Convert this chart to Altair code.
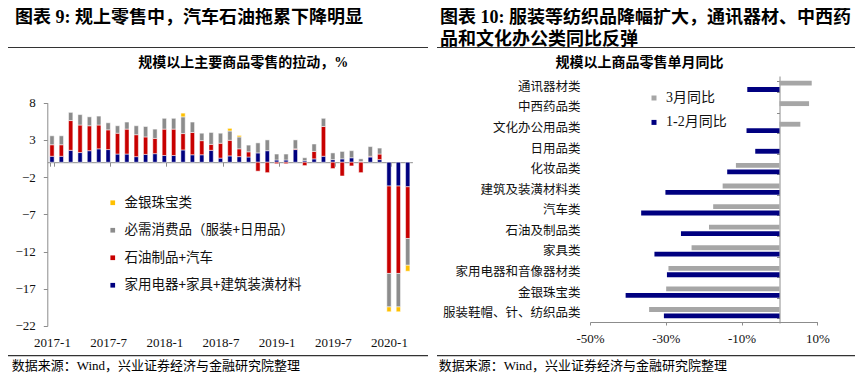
import altair as alt
import pandas as pd

MIX = "Liberation Serif, Noto Sans CJK SC"
CJK = "Noto Sans CJK SC"
SERIF = "Liberation Serif"

# ---------------- left chart data ----------------
months = [f"{y}-{m}" for y in (2017, 2018, 2019) for m in range(1, 13)] + ["2020-1", "2020-2", "2020-3"]
month_ticks = ["2017-1", "2017-7", "2018-1", "2018-7", "2019-1", "2019-7", "2020-1"]

left_series = ["金银珠宝类", "必需消费品（服装+日用品）", "石油制品+汽车", "家用电器+家具+建筑装潢材料"]
left_colors = ["#ffc000", "#8c8c8c", "#c80000", "#00007f"]

appliance = [0.8, 0.8, 1.6, 1.3, 1.55, 1.8, 1.7, 1.1, 1.1, 0.75, 1.05, 1.15,
             0.9, 0.9, 1.65, 1.0, 1.0, 1.6, 0.55, 0.85, 0.75, 0.7, 1.25, 1.55,
             0.3, 0.3, 1.7, 0.2, 0.45, 0.8, 0.35, 0.45, 0.6, 0.1, 0.7, 0.35,
             -3.2, -3.2, -3.3]
oil_auto = [1.55, 1.55, 4.0, 3.7, 3.35, 3.2, 2.65, 2.8, 3.35, 2.95, 2.35, 2.05,
            3.55, 3.55, 2.2, 3.0, 1.9, 0.8, 2.0, 2.1, 1.05, 0.7, -1.2, -1.4,
            -0.2, -0.2, 0.1, -0.45, 1.0, 4.0, -0.85, -1.85, -0.5, -1.4, 0.1, 0.75,
            -11.75, -11.75, -6.95]
necessities = [1.2, 1.2, 1.1, 1.4, 1.2, 1.2, 0.95, 1.0, 0.95, 1.2, 1.4, 1.25,
               1.45, 1.45, 2.25, 1.4, 1.0, 1.6, 1.35, 1.25, 1.6, 0.9, 1.35, 1.45,
               0.8, 0.8, 1.2, 0.4, 1.0, 1.1, 0.9, 1.0, 0.95, 0.35, 1.3, 0.8,
               -4.5, -4.5, -3.6]
jewelry = [0, 0, 0, 0, 0, 0, 0, 0, 0, 0, 0, 0,
           0, 0, 0.5, 0, 0, 0, 0, 0.35, 0.2, 0, 0, 0,
           0, 0, 0, 0, 0, 0, 0, 0, 0, 0, 0, 0,
           -0.65, -0.65, -0.8]

rows = []
for i, m in enumerate(months):
    for k, (name, vals) in enumerate([(left_series[3], appliance), (left_series[2], oil_auto),
                                      (left_series[1], necessities), (left_series[0], jewelry)]):
        if vals[i] != 0:
            rows.append({"month": m, "series": name, "v": vals[i], "k": k})
left_df = pd.DataFrame(rows)

# ---------------- right chart data ----------------
cats = ["通讯器材类", "中西药品类", "文化办公用品类", "日用品类", "化妆品类", "建筑及装潢材料类",
        "汽车类", "石油及制品类", "家具类", "家用电器和音像器材类", "金银珠宝类", "服装鞋帽、针、纺织品类"]
right_series = ["3月同比", "1-2月同比"]
right_colors = ["#a6a6a6", "#000080"]
march = [8.5, 7.8, 5.5, None, -11.5, -15.0, -17.5, -18.6, -23.2, -29.3, -29.9, -34.4]
janfeb = [-8.5, None, -8.7, -6.4, -13.8, -30.1, -36.5, -26.0, -33.0, -29.7, -40.6, -30.5]

rrows = []
for c, a, b in zip(cats, march, janfeb):
    if a is not None:
        rrows.append({"cat": c, "s": right_series[0], "v": a})
    if b is not None:
        rrows.append({"cat": c, "s": right_series[1], "v": b})
right_df = pd.DataFrame(rrows)

H = 367
AX = "#8c8c8c"

left_bars = alt.Chart(left_df).mark_bar(stroke="white", strokeWidth=0.5).encode(
    x=alt.X("month:O", sort=months,
            scale=alt.Scale(domain=months, range=[39.3, 404.4], paddingInner=0.54, paddingOuter=0.27),
            axis=alt.Axis(orient="bottom", offset=154.2 - H, values=month_ticks, tickBand="extent",
                          tickSize=4, tickColor=AX, domainColor=AX, labelFont=SERIF, labelFontSize=13,
                          labelColor="#111", labelPadding=170, labelAngle=0, labelOverlap=False,
                          title=None, grid=False)),
    y=alt.Y("v:Q", stack="zero",
            scale=alt.Scale(domain=[-22, 8], range=[317.9, 94.7], nice=False, zero=False),
            axis=alt.Axis(orient="left", offset=-39.3, values=[8, 3, -2, -7, -12, -17, -22],
                          tickSize=4, tickColor=AX, domainColor=AX, labelFont=SERIF, labelFontSize=13,
                          labelColor="#111", labelPadding=8, title=None, grid=False)),
    color=alt.Color("series:N", scale=alt.Scale(domain=left_series, range=left_colors),
                    legend=alt.Legend(orient="none", legendX=98, legendY=188, title=None,
                                      symbolType="square", symbolSize=22, symbolStrokeWidth=0,
                                      labelFont=CJK, labelFontSize=13.5, labelColor="#111",
                                      rowPadding=12.5, labelOffset=5, labelLimit=400)),
    order=alt.Order("k:Q", sort="ascending"),
)

right_bars = alt.Chart(right_df).mark_bar().encode(
    y=alt.Y("cat:N", sort=cats,
            scale=alt.Scale(domain=cats, range=[68, 315], paddingInner=0.45, paddingOuter=0.225),
            axis=alt.Axis(orient="left", offset=-771.5, tickBand="extent", tickSize=3, tickColor=AX,
                          domainColor=AX, labelFont=CJK, labelFontSize=12.5, labelColor="#111",
                          labelPadding=196.5, labelLimit=400, title=None, grid=False)),
    yOffset=alt.YOffset("s:N", sort=right_series,
                        scale=alt.Scale(domain=right_series, paddingInner=0.25)),
    x=alt.X("v:Q", scale=alt.Scale(domain=[-50, 10], range=[582, 809.4], nice=False),
            axis=alt.Axis(orient="bottom", offset=314 - H, values=[-50, -30, -10, 10],
                          labelExpr="datum.value + '%'", tickSize=3, tickColor=AX, domainColor=AX,
                          labelFont=SERIF, labelFontSize=13, labelColor="#111", labelPadding=7.5,
                          labelFlush=False, title=None, grid=False)),
    color=alt.Color("s:N", scale=alt.Scale(domain=right_series, range=right_colors),
                    legend=alt.Legend(orient="none", legendX=639, legendY=83, title=None,
                                      symbolType="square", symbolSize=25, symbolStrokeWidth=0,
                                      labelFont=MIX, labelFontSize=14, labelColor="#111",
                                      rowPadding=10.4, labelOffset=5)),
)


def label(text, x, y, size, weight="normal", align="left", font=MIX):
    return alt.Chart(pd.DataFrame({"t": [text]})).mark_text(
        align=align, baseline="top", fontSize=size, fontWeight=weight, font=font, color="#000"
    ).encode(x=alt.value(x), y=alt.value(y), text="t:N")


def hline(x0, x1, y):
    return alt.Chart(pd.DataFrame({"t": [0]})).mark_rule(color="#333", strokeWidth=1.2).encode(
        x=alt.value(x0), x2=alt.value(x1), y=alt.value(y))


decor = [
    label("图表 9: 规上零售中，汽车石油拖累下降明显", 7, 1, 18, "bold"),
    label("图表 10: 服装等纺织品降幅扩大，通讯器材、中西药", 432, 1, 18, "bold"),
    label("品和文化办公类同比反弹", 432, 22.6, 18, "bold"),
    hline(0, 420, 39.5),
    hline(429, 847, 39.5),
    label("规模以上主要商品零售的拉动，%", 235.3, 48, 14, "bold", "center"),
    label("规模以上商品零售单月同比", 631.5, 48, 14, "bold", "center"),
    hline(0, 420, 347.7),
    hline(429, 847, 347.7),
    label("数据来源：Wind，兴业证券经济与金融研究院整理", 3.7, 352, 13),
    label("数据来源：Wind，兴业证券经济与金融研究院整理", 430.7, 352, 13),
]

chart = alt.layer(left_bars, right_bars, *decor).resolve_scale(
    x="independent", y="independent", color="independent"
).properties(
    width=848, height=H, padding=0, autosize=alt.AutoSizeParams(type="none")
).configure_view(strokeWidth=0)

chart.save("out.html", embed_options={"renderer": "svg", "actions": False})
